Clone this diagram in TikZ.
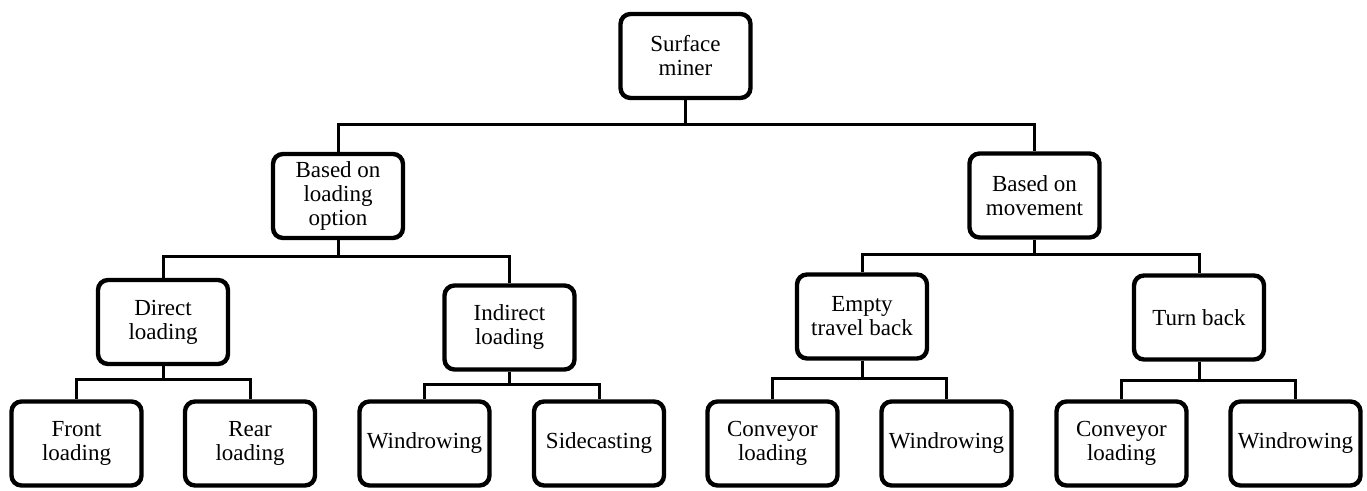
\documentclass[tikz,border=0pt]{standalone}
\usepackage{fontspec}
\setmainfont{Liberation Serif}
\newfontfamily\boxfont{Liberation Serif}
\usepackage{tikz}
\usetikzlibrary{positioning,calc}

\tikzset{
  minerbox/.style={draw=black, line width=2.2pt, rounded corners=5pt, fill=white,
    minimum width=65pt, minimum height=42pt, align=center, inner sep=2pt,
    font=\boxfont\fontsize{11.5}{12}\selectfont},
  link/.style={draw=black, line width=1.5pt}
}

\begin{document}
\begin{tikzpicture}[x=0.5pt, y=-0.5pt]
  \useasboundingbox (0,0) rectangle (1367,491);
  % Top level
  \node[minerbox] (miner) at (685.5,56) {Surface\\miner};
  % Second level
  \node[minerbox] (loadopt) at (338,196) {Based on\\loading\\option};
  \node[minerbox] (movement) at (1034.5,195.5) {Based on\\movement};
  % Third level
  \node[minerbox] (direct) at (163,322) {Direct\\loading};
  \node[minerbox] (indirect) at (509.5,327.5) {Indirect\\loading};
  \node[minerbox] (emptyback) at (862,316.5) {Empty\\travel back};
  \node[minerbox] (turnback) at (1199,317.5) {Turn back};
  % Bottom row
  \node[minerbox] (front) at (76.5,443.5) {Front\\loading};
  \node[minerbox] (rear) at (250,443.5) {Rear\\loading};
  \node[minerbox] (windrowA) at (424.5,443.5) {Windrowing};
  \node[minerbox] (sidecast) at (599,443.5) {Sidecasting};
  \node[minerbox] (conveyorA) at (772.5,443.5) {Conveyor\\loading};
  \node[minerbox] (windrowB) at (946.5,443.5) {Windrowing};
  \node[minerbox] (conveyorB) at (1121.5,443.5) {Conveyor\\loading};
  \node[minerbox] (windrowC) at (1295.5,443.5) {Windrowing};

  % Bus points
  \coordinate (busminer) at (685.5,125);
  \coordinate (busload) at (338,257);
  \coordinate (busmove) at (1034.5,255);
  \coordinate (busdirect) at (163,380);
  \coordinate (busindirect) at (509.5,385);
  \coordinate (busempty) at (862,379);
  \coordinate (busturn) at (1199,381);

  % Connectors
  \draw[link] (miner.south) -- (busminer);
  \draw[link] (busminer) -| (loadopt.north);
  \draw[link] (busminer) -| (movement.north);
  \draw[link] (loadopt.south) -- (busload);
  \draw[link] (busload) -| (direct.north);
  \draw[link] (busload) -| (indirect.north);
  \draw[link] (movement.south) -- (busmove);
  \draw[link] (busmove) -| (emptyback.north);
  \draw[link] (busmove) -| (turnback.north);
  \draw[link] (direct.south) -- (busdirect);
  \draw[link] (busdirect) -| (front.north);
  \draw[link] (busdirect) -| (rear.north);
  \draw[link] (indirect.south) -- (busindirect);
  \draw[link] (busindirect) -| (windrowA.north);
  \draw[link] (busindirect) -| (sidecast.north);
  \draw[link] (emptyback.south) -- (busempty);
  \draw[link] (busempty) -| (conveyorA.north);
  \draw[link] (busempty) -| (windrowB.north);
  \draw[link] (turnback.south) -- (busturn);
  \draw[link] (busturn) -| (conveyorB.north);
  \draw[link] (busturn) -| (windrowC.north);
\end{tikzpicture}
\end{document}
